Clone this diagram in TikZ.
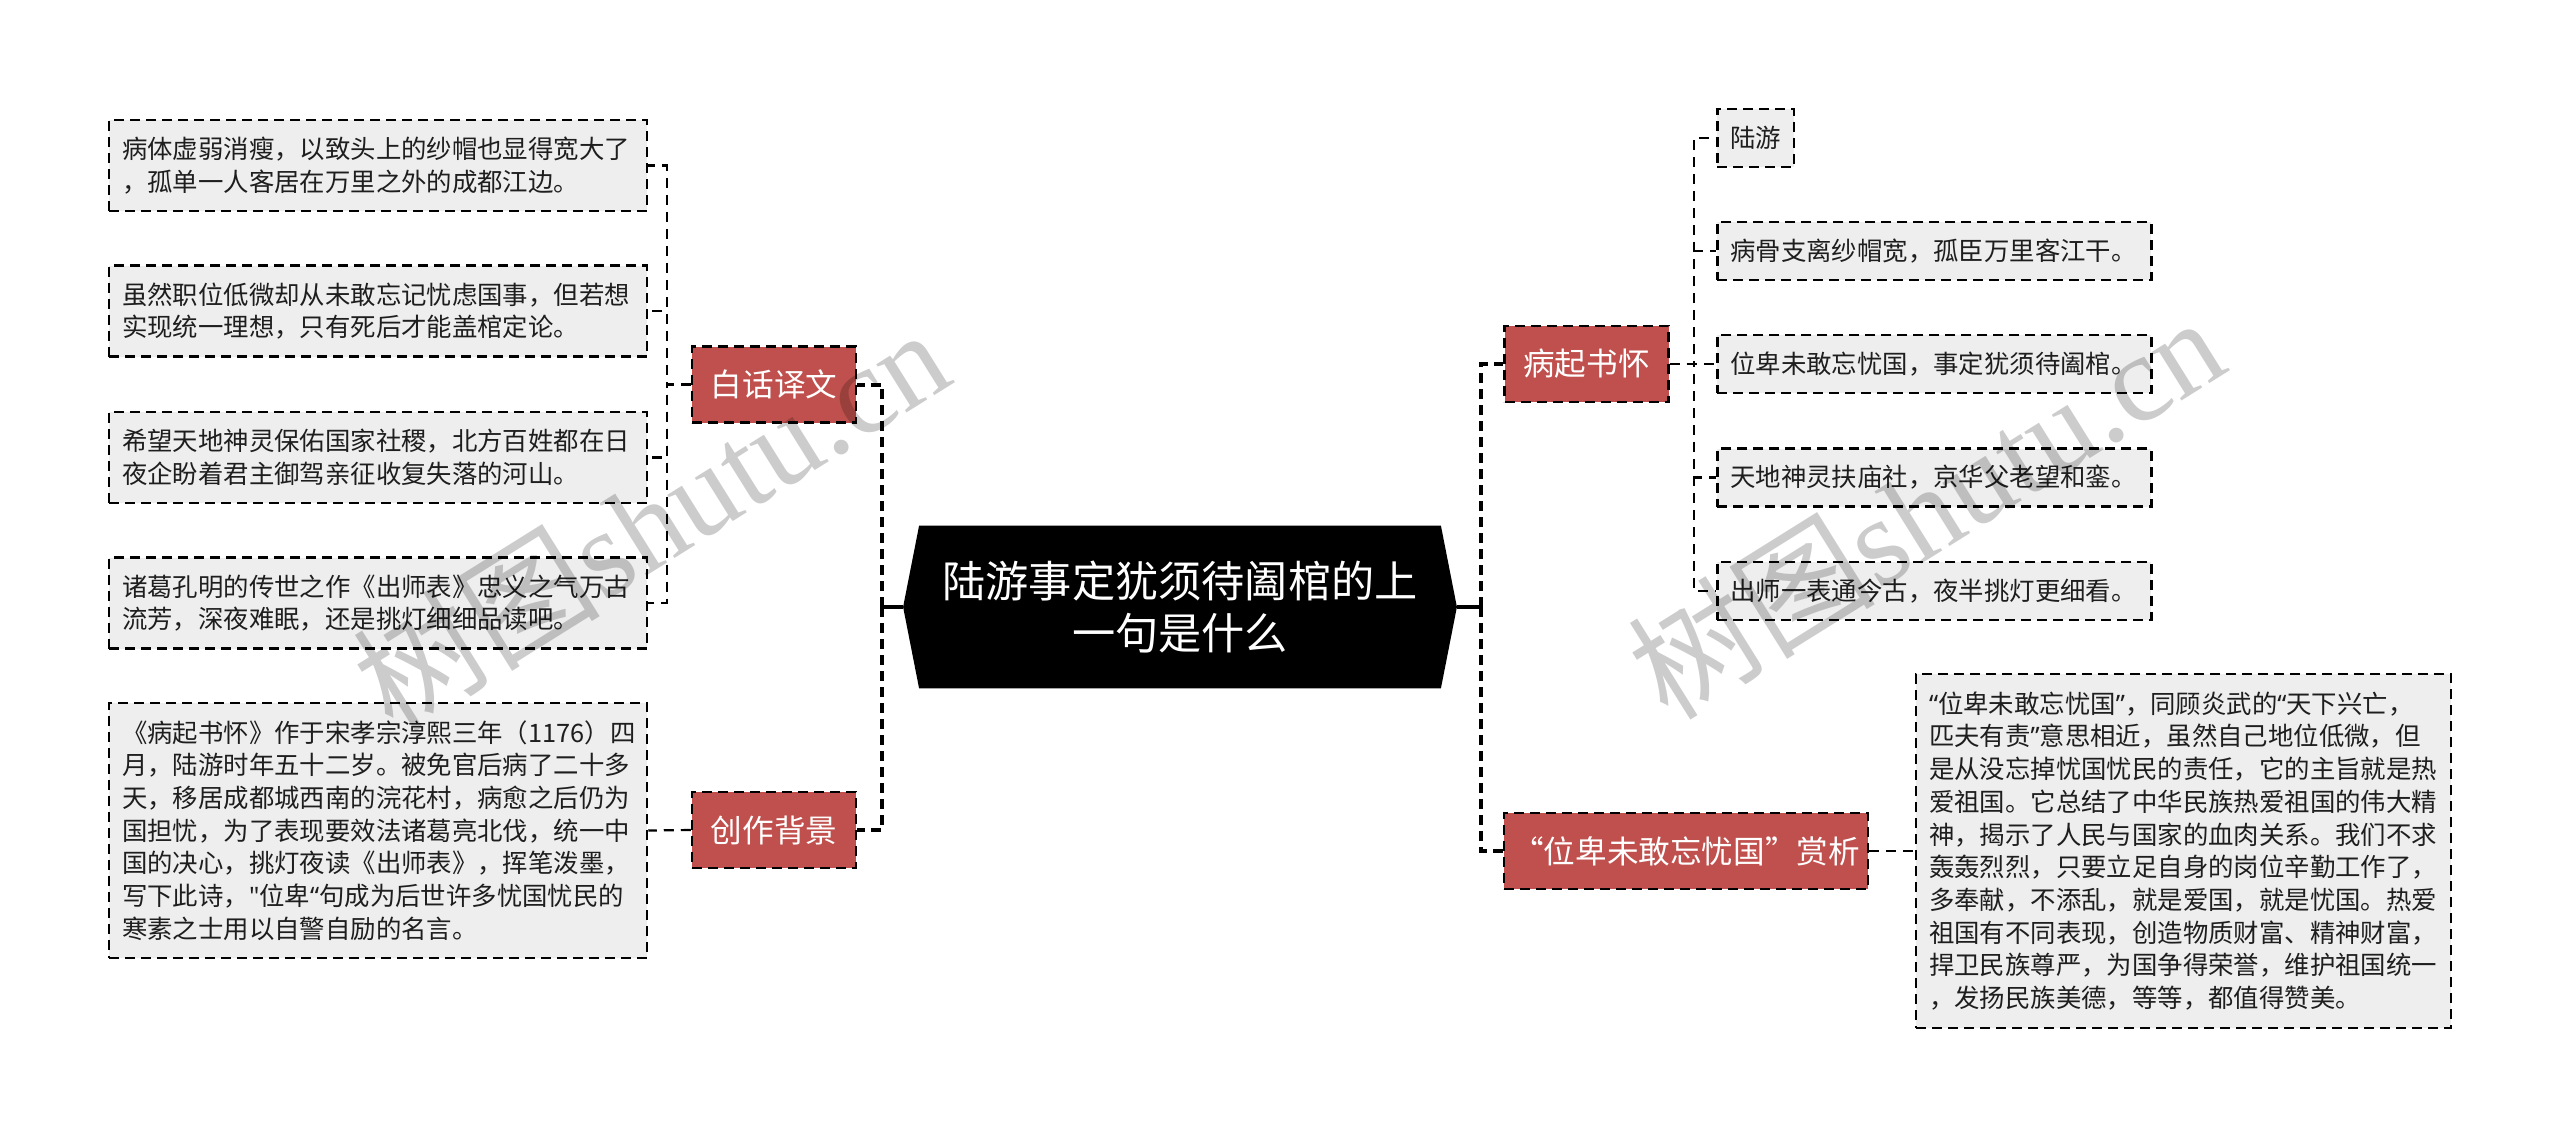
\documentclass[tikz,border=0pt]{standalone}
\usepackage{fontspec}
\setmainfont{Noto Sans CJK SC}[Ligatures=TeXOff]
\newfontfamily\wmserif{Liberation Serif}
\newfontfamily\qfont{Noto Sans}[Ligatures=TeXOff]
\newcommand\myoq{{\qfont “}}
\newcommand\mycq{{\qfont ”}}
\newcommand\mysq{{\qfont "}}
\usetikzlibrary{backgrounds}
\definecolor{redbox}{RGB}{192,80,77}
\definecolor{leafgray}{RGB}{238,238,238}
\definecolor{inkdark}{RGB}{30,30,30}
\tikzset{
  boxdash/.style={dash pattern=on 5pt off 3pt, line width=1.25pt},
  mainbox/.style={draw=black, boxdash, fill=redbox, text=white,
    font=\fontsize{15.8}{18}\selectfont, minimum width=82pt, minimum height=38pt, inner sep=0pt},
  leafbox/.style={draw=black, boxdash, fill=leafgray, text=inkdark,
    font=\fontsize{12.7}{16.35}\selectfont, align=left, inner xsep=6.5pt, inner ysep=0pt},
  leafL/.style={leafbox, text width=256pt, minimum height=45.5pt},
  leafR/.style={leafbox, text width=204pt, minimum height=29pt, anchor=west},
  centerbox/.style={text=white, align=center, font=\fontsize{21.6}{26}\selectfont,
    minimum width=260.5pt, minimum height=81pt, inner sep=0pt},
  solidconn/.style={draw=black, line width=2pt},
  mainconn/.style={draw=black, line width=2pt, dash pattern=on 5pt off 3pt},
  leafconn/.style={draw=black, line width=1.1pt, dash pattern=on 5pt off 3.5pt},
  wm/.style={text=black, opacity=0.2, font=\fontsize{62}{62}\selectfont, inner sep=0pt}
}
\begin{document}
\begin{tikzpicture}[x=0.5pt,y=-0.5pt]
\useasboundingbox (0,0) rectangle (2560,1137);

% central node
\node[centerbox] (c) at (1180,607) {陆游事定犹须待阖棺的上\\一句是什么};
\coordinate (ctl) at ([xshift=-8pt]c.west);
\coordinate (ctr) at ([xshift=8pt]c.east);
\begin{scope}[on background layer]
  \fill[black] (ctl) -- (c.north west) -- (c.north east) -- (ctr) -- (c.south east) -- (c.south west) -- cycle;
\end{scope}

% main branch nodes
\node[mainbox] (bh) at (774,384.5) {白话译文};
\node[mainbox] (cz) at (774,830) {创作背景};
\node[mainbox] (bq) at (1586.5,364) {病起书怀};
\node[mainbox, minimum width=182pt] (sx) at (1686,851) {“位卑未敢忘忧国”赏析};

% left leaves
\node[leafL] (l1) at (378,165.5) {病体虚弱消瘦，以致头上的纱帽也显得宽大了\\，孤单一人客居在万里之外的成都江边。};
\node[leafL] (l2) at (378,311) {虽然职位低微却从未敢忘记忧虑国事，但若想\\实现统一理想，只有死后才能盖棺定论。};
\node[leafL] (l3) at (378,457.5) {希望天地神灵保佑国家社稷，北方百姓都在日\\夜企盼着君主御驾亲征收复失落的河山。};
\node[leafL] (l4) at (378,603) {诸葛孔明的传世之作《出师表》忠义之气万古\\流芳，深夜难眠，还是挑灯细细品读吧。};
\node[leafL, minimum height=127.5pt] (bg) at (378,830.5) {《病起书怀》作于宋孝宗淳熙三年（1176）四\\月，陆游时年五十二岁。被免官后病了二十多\\天，移居成都城西南的浣花村，病愈之后仍为\\国担忧，为了表现要效法诸葛亮北伐，统一中\\国的决心，挑灯夜读《出师表》，挥笔泼墨，\\写下此诗，\mysq 位卑\myoq 句成为后世许多忧国忧民的\\寒素之士用以自警自励的名言。};

% right leaves
\node[leafbox, anchor=west, minimum width=38pt, minimum height=29pt] (r0) at (1716,138) {陆游};
\node[leafR] (r1) at (1716,251) {病骨支离纱帽宽，孤臣万里客江干。};
\node[leafR] (r2) at (1716,364) {位卑未敢忘忧国，事定犹须待阖棺。};
\node[leafR] (r3) at (1716,477.5) {天地神灵扶庙社，京华父老望和銮。};
\node[leafR] (r4) at (1716,591) {出师一表通今古，夜半挑灯更细看。};
\node[leafbox, text width=254.5pt, minimum height=177pt] (an) at (2183.5,851) {\myoq 位卑未敢忘忧国\mycq ，同顾炎武的\myoq 天下兴亡，\\匹夫有责\mycq 意思相近，虽然自己地位低微，但\\是从没忘掉忧国忧民的责任，它的主旨就是热\\爱祖国。它总结了中华民族热爱祖国的伟大精\\神，揭示了人民与国家的血肉关系。我们不求\\轰轰烈烈，只要立足自身的岗位辛勤工作了，\\多奉献，不添乱，就是爱国，就是忧国。热爱\\祖国有不同表现，创造物质财富、精神财富，\\捍卫民族尊严，为国争得荣誉，维护祖国统一\\，发扬民族美德，等等，都值得赞美。};

% connectors from center
\coordinate (lj) at ([xshift=-10.5pt]ctl);
\coordinate (rj) at ([xshift=12pt]ctr);
\draw[solidconn] (ctl) -- (lj);
\draw[mainconn] (lj) |- (bh.east);
\draw[mainconn] (lj) |- (cz.east);
\draw[solidconn] (ctr) -- (rj);
\draw[mainconn] (rj) |- (bq.west);
\draw[mainconn] (rj) |- (sx.west);

% leaf connectors
\coordinate (bhj) at ([xshift=-12pt]bh.west);
\foreach \n in {l1,l2,l3,l4} \draw[leafconn] (bh.west) -- (bhj) |- (\n.east);
\draw[leafconn] (cz.west) -- (bg.east);
\coordinate (bqj) at ([xshift=12pt]bq.east);
\foreach \n in {r0,r1,r2,r3,r4} \draw[leafconn] (bq.east) -- (bqj) |- (\n.west);
\draw[leafconn] (sx.east) -- (an.west);

% watermarks
\node[wm, rotate=32] (w1) at (650,518) {树图{\wmserif shutu.cn}};
\node[wm, rotate=32] (w2) at (1925,506) {树图{\wmserif shutu.cn}};
\end{tikzpicture}
\end{document}
